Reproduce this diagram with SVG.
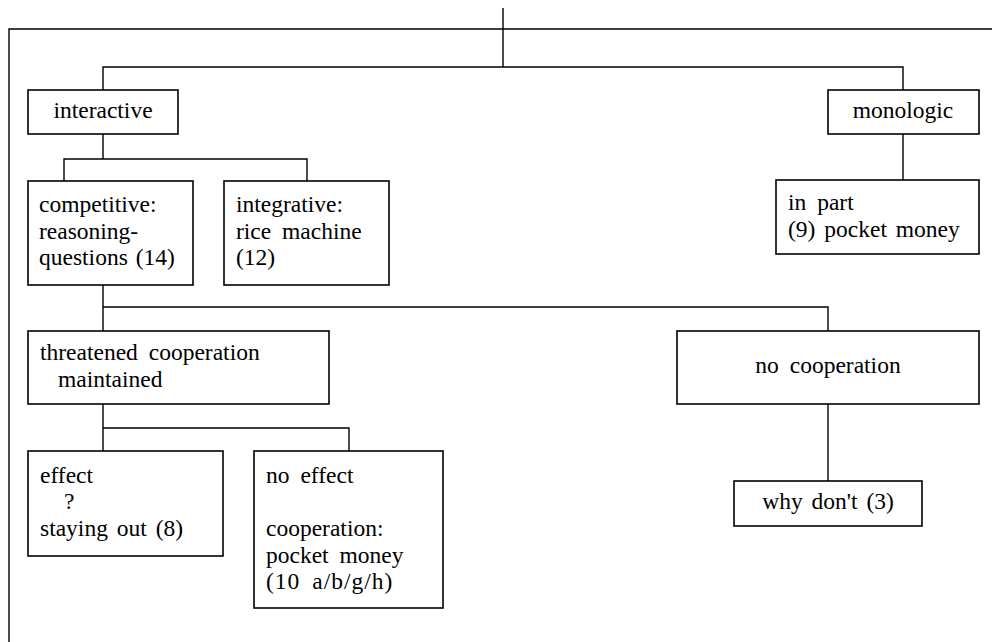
<svg xmlns="http://www.w3.org/2000/svg" width="992" height="642" viewBox="0 0 992 642">
<style>
.box{fill:#fff;stroke:#000;stroke-width:1.6}
.ln{fill:none;stroke:#000;stroke-width:1.4}
.t{font-family:'Liberation Serif','Times New Roman','DejaVu Serif',serif;font-size:23.5px;fill:#000;word-spacing:5px}
.c{text-anchor:middle}
</style>
<rect width="992" height="642" fill="#fff"/>
<g id="connectors">
<path class="ln" d="M9,642 V29 H992"/>
<path class="ln" d="M503,8 V67"/>
<path class="ln" d="M103,90 V67 H903 V90"/>
<path class="ln" d="M103,134 V159 M64,181 V159 H307 V181"/>
<path class="ln" d="M903,134 V180"/>
<path class="ln" d="M103,285 V331 M103,307 H828 V331"/>
<path class="ln" d="M103,404 V451 M103,428 H349 V451"/>
<path class="ln" d="M828,404 V481"/>
</g>
<g class="t" font-family="Liberation Serif, Times New Roman, serif">
<g id="interactive">
<rect class="box" x="28" y="90" width="150" height="44"/>
<text class="c" x="103" y="118">interactive</text>
</g>
<g id="monologic">
<rect class="box" x="828" y="90" width="151" height="44"/>
<text class="c" x="903" y="118">monologic</text>
</g>
<g id="competitive">
<rect class="box" x="28" y="181" width="165" height="104"/>
<text x="39" y="212">competitive:</text>
<text x="39" y="239">reasoning-</text>
<text x="39" y="265" style="word-spacing:2px">questions (14)</text>
</g>
<g id="integrative">
<rect class="box" x="224" y="181" width="165" height="104"/>
<text x="236" y="212">integrative:</text>
<text x="236" y="239">rice machine</text>
<text x="236" y="265">(12)</text>
</g>
<g id="inpart">
<rect class="box" x="776" y="180" width="203" height="74"/>
<text x="788" y="210">in part</text>
<text x="788" y="237" style="word-spacing:3px">(9) pocket money</text>
</g>
<g id="threatened">
<rect class="box" x="28" y="331" width="301" height="73"/>
<text x="40" y="360">threatened cooperation</text>
<text x="58" y="387">maintained</text>
</g>
<g id="nocooperation">
<rect class="box" x="677" y="331" width="302" height="73"/>
<text class="c" x="828" y="373">no cooperation</text>
</g>
<g id="effect">
<rect class="box" x="28" y="451" width="195" height="105"/>
<text x="40" y="483">effect</text>
<text x="64" y="509">?</text>
<text x="40" y="536" style="word-spacing:3px">staying out (8)</text>
</g>
<g id="noeffect">
<rect class="box" x="254" y="451" width="189" height="157"/>
<text x="266" y="483">no effect</text>
<text x="266" y="536">cooperation:</text>
<text x="266" y="563">pocket money</text>
<text x="266" y="589" letter-spacing="1">(10 a/b/g/h)</text>
</g>
<g id="whydont">
<rect class="box" x="734" y="481" width="188" height="45"/>
<text class="c" x="828" y="509" style="word-spacing:3px">why don't (3)</text>
</g>
</g>
</svg>
